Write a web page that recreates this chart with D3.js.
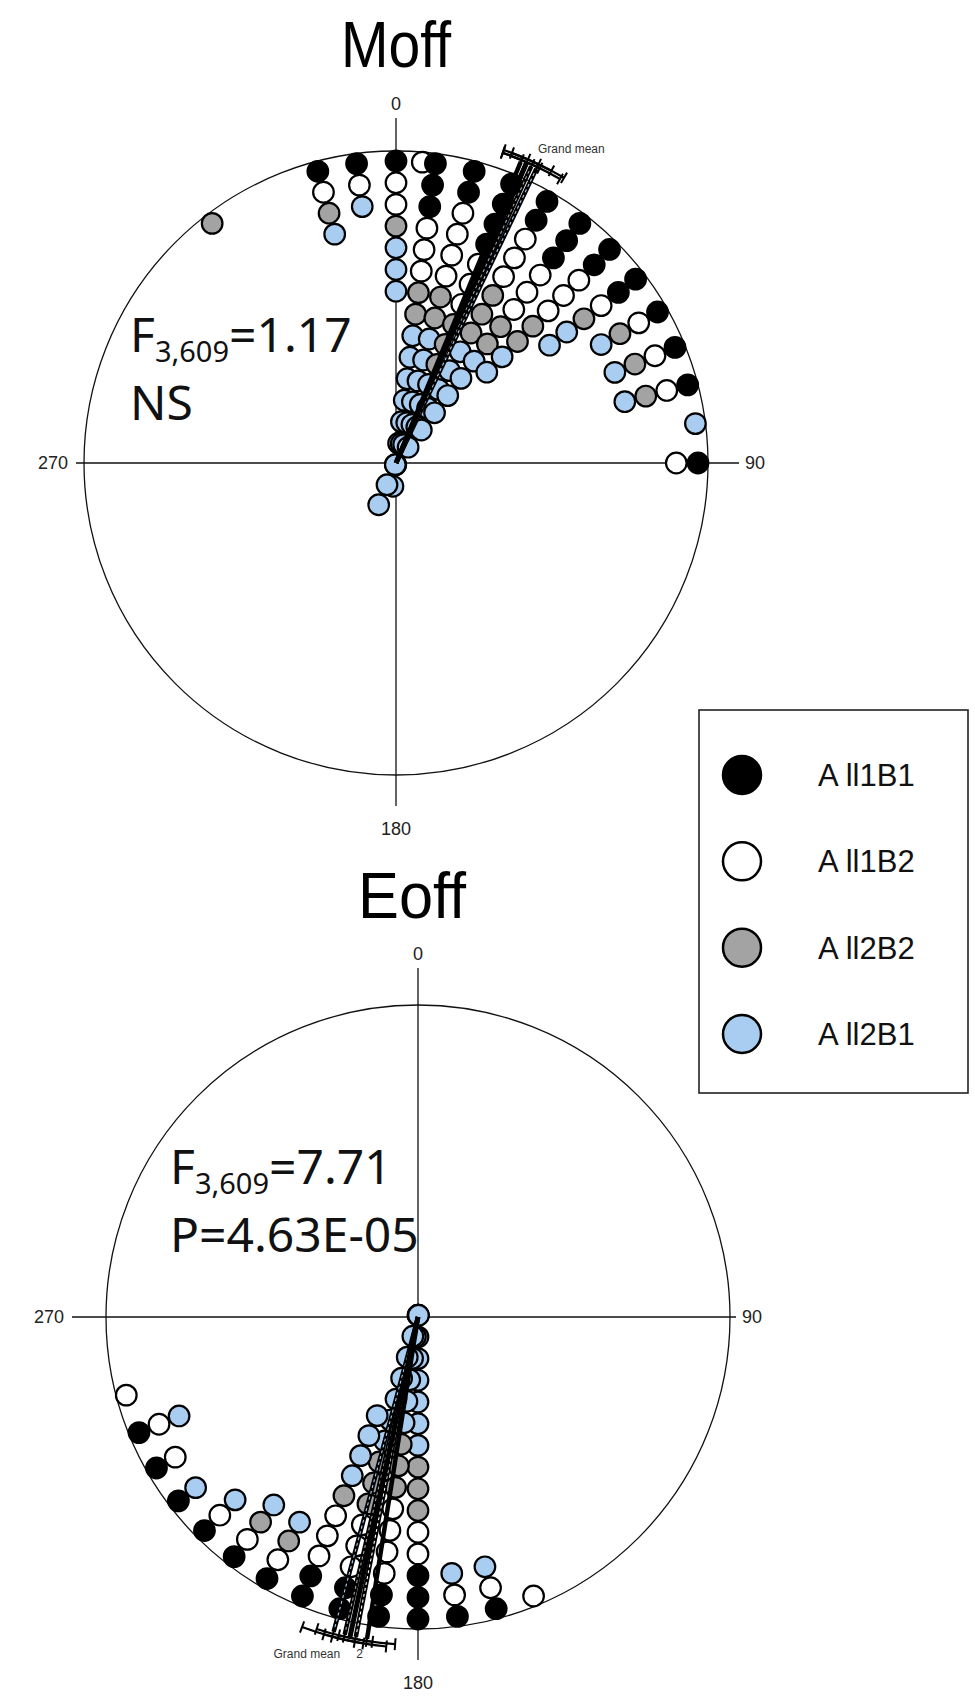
<!DOCTYPE html>
<html><head><meta charset="utf-8">
<script src="https://cdn.jsdelivr.net/npm/d3@7"></script>
<style>body{margin:0;background:#fff}</style>
</head><body>
<svg id="c" width="975" height="1696"></svg>
<script>
// ---------------- DATA ----------------
const groups = ["All1B1", "All1B2", "All2B2", "All2B1"];
const groupColors = ["#000000", "#ffffff", "#a3a3a3", "#a9cdf0"];
const tickLabels = ["0", "90", "180", "270"];

// Moff: angular bins (degrees) and number of stacked dots per group
const moffAngles = [-37.5, -15, -7.5, 0, 5, 7.5, 15, 22.5, 30, 37.5, 45, 52.5, 60, 67.5, 75, 82.5, 90];
const moffAll1B1 = [0, 1, 1, 1, 0, 3, 2, 4, 2, 3, 2, 2, 1, 1, 1, 0, 1];
const moffAll1B2 = [0, 1, 1, 2, 1, 3, 4, 3, 3, 3, 3, 1, 1, 1, 1, 0, 1];
const moffAll2B2 = [1, 1, 0, 1, 0, 2, 2, 3, 3, 2, 2, 1, 1, 1, 1, 0, 0];
const moffAll2B1 = [0, 1, 1, 3, 0, 8, 7, 7, 5, 6, 2, 2, 1, 1, 1, 1, 0];
const moffGroupMeans = [22.5, 23.5, 24.5, 25.5];
const moffGroupCI = [3.5, 4.5, 5.5, 5];
const moffGrandMean = 23.5;
const moffStat = { main: "F", sub: "3,609", rest: "=1.17", line2: "NS" };

// Eoff
const eoffAngles = [157.5, 165, 172.5, 180, 187.5, 195, 202.5, 210, 217.5, 225, 232.5, 240, 247.5, 255];
const eoffAll1B1 = [0, 1, 1, 3, 2, 2, 2, 1, 1, 1, 1, 1, 1, 0];
const eoffAll1B2 = [1, 1, 1, 2, 4, 3, 3, 1, 1, 1, 0, 1, 1, 1];
const eoffAll2B2 = [0, 0, 0, 3, 3, 3, 1, 1, 1, 0, 0, 0, 0, 0];
const eoffAll2B1 = [0, 1, 1, 7, 6, 7, 4, 1, 1, 1, 1, 0, 1, 0];
const eoffGroupMeans = [189, 191, 193, 195];
const eoffGroupCI = [5, 5.5, 5, 5.5];
const eoffGrandMean = 192;
const eoffStat = { main: "F", sub: "3,609", rest: "=7.71", line2: "P=4.63E-05" };

// ---------------- LAYOUT ----------------
const R = 312;
const panels = [
  { title: "Moff", angles: moffAngles, counts: [moffAll1B1, moffAll1B2, moffAll2B2, moffAll2B1],
    means: moffGroupMeans, ci: moffGroupCI, grand: moffGrandMean, stat: moffStat,
    cx: 396, cy: 463, hx0: 76, hx1: 739, vUp: 345, vDown: 343,
    titleX: 396, titleY: 67, titleLen: 110, statX: 130, statY: 352, gmSide: "right" },
  { title: "Eoff", angles: eoffAngles, counts: [eoffAll1B1, eoffAll1B2, eoffAll2B2, eoffAll2B1],
    means: eoffGroupMeans, ci: eoffGroupCI, grand: eoffGrandMean, stat: eoffStat,
    cx: 418, cy: 1317, hx0: 72, hx1: 736, vUp: 349, vDown: 343,
    titleX: 412, titleY: 918, titleLen: 108, statX: 170, statY: 1184, gmSide: "left" }
];

const svg = d3.select("#c");
const ang = d3.scaleLinear().domain([0, 360]).range([0, 2 * Math.PI]);
const stackR = d3.scaleLinear().domain([0, 1]).range([R - 10, R - 10 - 21.7]);
const color = d3.scaleOrdinal().domain(groups).range(groupColors);

panels.forEach(p => {
  const g = svg.append("g").attr("transform", `translate(${p.cx},${p.cy})`);

  // title
  svg.append("text").attr("x", p.titleX).attr("y", p.titleY)
    .attr("text-anchor", "middle").attr("font-family", "Liberation Sans, Arial, sans-serif")
    .attr("font-size", 64).attr("textLength", p.titleLen).attr("lengthAdjust", "spacingAndGlyphs")
    .text(p.title);

  // circle and axes
  g.append("circle").attr("r", R).attr("fill", "none").attr("stroke", "#111").attr("stroke-width", 1.3);
  g.append("line").attr("x1", p.hx0 - p.cx).attr("x2", p.hx1 - p.cx).attr("y1", 0).attr("y2", 0)
    .attr("stroke", "#111").attr("stroke-width", 1.3);
  g.append("line").attr("x1", 0).attr("x2", 0).attr("y1", -p.vUp).attr("y2", p.vDown)
    .attr("stroke", "#111").attr("stroke-width", 1.3);

  const tf = "Liberation Sans, Arial, sans-serif";
  g.append("text").attr("x", 0).attr("y", -p.vUp - 8).attr("text-anchor", "middle")
    .attr("font-family", tf).attr("font-size", 18).attr("fill", "#222").text(tickLabels[0]);
  g.append("text").attr("x", p.hx1 - p.cx + 6).attr("y", 6).attr("text-anchor", "start")
    .attr("font-family", tf).attr("font-size", 18).attr("fill", "#222").text(tickLabels[1]);
  g.append("text").attr("x", 0).attr("y", p.vDown + 29).attr("text-anchor", "middle")
    .attr("font-family", tf).attr("font-size", 18).attr("fill", "#222").text(tickLabels[2]);
  g.append("text").attr("x", p.hx0 - p.cx - 8).attr("y", 6).attr("text-anchor", "end")
    .attr("font-family", tf).attr("font-size", 18).attr("fill", "#222").text(tickLabels[3]);

  // stacked dots
  const dots = [];
  p.angles.forEach((a, i) => {
    let k = 0;
    groups.forEach((grp, gi) => {
      for (let n = 0; n < p.counts[gi][i]; n++) {
        const [x, y] = d3.pointRadial(ang(a), stackR(k));
        dots.push({ x, y, grp });
        k++;
      }
    });
  });
  g.selectAll("circle.dot").data(dots).join("circle").attr("class", "dot")
    .attr("cx", d => d.x).attr("cy", d => d.y).attr("r", 10.3)
    .attr("fill", d => color(d.grp)).attr("stroke", "#000").attr("stroke-width", 2.2);

  // group mean lines (black casing + group colour core)
  const rEnd = R + 14;
  p.means.forEach((m, i) => {
    const [x, y] = d3.pointRadial(ang(m), rEnd);
    g.append("line").attr("x1", 0).attr("y1", 0).attr("x2", x).attr("y2", y)
      .attr("stroke", "#000").attr("stroke-width", 4.5);
  });
  p.means.forEach((m, i) => {
    const [x, y] = d3.pointRadial(ang(m), rEnd - 4);
    g.append("line").attr("x1", 0).attr("y1", 0).attr("x2", x).attr("y2", y)
      .attr("stroke", groupColors[i]).attr("stroke-width", i === 0 ? 0 : 1.1)
      .attr("stroke-dasharray", "3,3");
  });
  // grand mean
  {
    const [x, y] = d3.pointRadial(ang(p.grand), rEnd + 2);
    g.append("line").attr("x1", 0).attr("y1", 0).attr("x2", x).attr("y2", y)
      .attr("stroke", "#000").attr("stroke-width", 5);
  }
  // confidence intervals
  const arc = d3.arc();
  p.means.forEach((m, i) => {
    const rr = rEnd + 2 + (i % 2) * 3;
    g.append("path").attr("d", arc({ innerRadius: rr, outerRadius: rr,
        startAngle: ang(m - p.ci[i]), endAngle: ang(m + p.ci[i]) }))
      .attr("fill", "none").attr("stroke", "#000").attr("stroke-width", 2.2);
    [m - p.ci[i], m, m + p.ci[i]].forEach(t => {
      const [x1, y1] = d3.pointRadial(ang(t), rr - 6);
      const [x2, y2] = d3.pointRadial(ang(t), rr + 6);
      g.append("line").attr("x1", x1).attr("y1", y1).attr("x2", x2).attr("y2", y2)
        .attr("stroke", "#000").attr("stroke-width", 2);
    });
  });
  {
    const [x, y] = d3.pointRadial(ang(p.grand), rEnd + 10);
    if (p.gmSide === "right") {
      g.append("text").attr("x", x + 8).attr("y", y - 2).attr("font-family", tf)
        .attr("font-size", 12).attr("fill", "#333").text("Grand mean");
    } else {
      g.append("text").attr("x", x - 8).attr("y", y + 12).attr("text-anchor", "end")
        .attr("font-family", tf).attr("font-size", 12).attr("fill", "#333").text("Grand mean");
      g.append("text").attr("x", x + 8).attr("y", y + 12)
        .attr("font-family", tf).attr("font-size", 12).attr("fill", "#333").text("2");
    }
  }

  // statistics text
  const sf = "Noto Sans, Open Sans, sans-serif";
  const t1 = svg.append("text").attr("x", p.statX).attr("y", p.statY)
    .attr("font-family", sf).attr("font-size", 48).attr("fill", "#111");
  t1.append("tspan").text(p.stat.main);
  t1.append("tspan").attr("font-size", 29).attr("dy", 10).text(p.stat.sub);
  t1.append("tspan").attr("dy", -10).text(p.stat.rest);
  svg.append("text").attr("x", p.statX).attr("y", p.statY + 68)
    .attr("font-family", sf).attr("font-size", 48).attr("fill", "#111").text(p.stat.line2);
});

// ---------------- LEGEND ----------------
const lg = svg.append("g");
lg.append("rect").attr("x", 699).attr("y", 710).attr("width", 269).attr("height", 383)
  .attr("fill", "#fff").attr("stroke", "#222").attr("stroke-width", 1.6);
const legY = d3.scalePoint().domain(groups).range([775, 1034]);
groups.forEach(grp => {
  lg.append("circle").attr("cx", 742).attr("cy", legY(grp)).attr("r", 19)
    .attr("fill", color(grp)).attr("stroke", "#000").attr("stroke-width", 2.5);
  const t = lg.append("text").attr("x", 818).attr("y", legY(grp) + 11)
    .attr("font-family", "Liberation Sans, Arial, sans-serif").attr("font-size", 31).attr("fill", "#111");
  t.append("tspan").text(grp.slice(0, 1));
  t.append("tspan").attr("dx", 7).text(grp.slice(1));
});
</script>
</body></html>
